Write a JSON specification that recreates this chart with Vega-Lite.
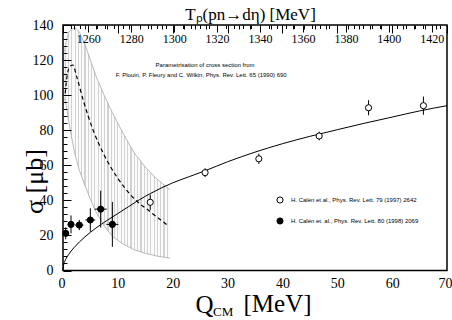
{
  "$schema": "https://vega.github.io/schema/vega-lite/v6.json",
  "width": 384,
  "height": 245.5,
  "autosize": {"type": "none"},
  "padding": {"left": 63, "top": 25, "right": 5, "bottom": 49.5},
  "background": "white",
  "config": {
    "view": {"stroke": "black", "strokeWidth": 1.5},
    "axis": {"labelFont": "Liberation Serif", "titleFont": "Liberation Serif", "labelColor": "black", "titleColor": "black", "titleFontWeight": "normal", "domain": false, "ticks": false, "tickSize": 0, "grid": true, "gridColor": "black", "gridOpacity": 1, "gridWidth": 1}
  },
  "datasets": {
    "tp": [{"Tp": 1260}, {"Tp": 1420}],
    "band": [
      {"Q": 0.3, "lo": 98, "hi": 125},
      {"Q": 0.6, "lo": 94, "hi": 131},
      {"Q": 1.0, "lo": 86, "hi": 135.5},
      {"Q": 1.5, "lo": 77, "hi": 137.5},
      {"Q": 2.2, "lo": 66, "hi": 138.5},
      {"Q": 3.0, "lo": 57, "hi": 136},
      {"Q": 4.0, "lo": 48.5, "hi": 129},
      {"Q": 5.0, "lo": 40.5, "hi": 120},
      {"Q": 6.0, "lo": 33.5, "hi": 111},
      {"Q": 7.5, "lo": 25.5, "hi": 100},
      {"Q": 9.0, "lo": 19.5, "hi": 90},
      {"Q": 11.0, "lo": 15, "hi": 78},
      {"Q": 13.0, "lo": 11.8, "hi": 67},
      {"Q": 15.0, "lo": 9.8, "hi": 59},
      {"Q": 17.0, "lo": 8.3, "hi": 52.5},
      {"Q": 19.5, "lo": 7, "hi": 46}
    ],
    "param": [
      {"Q": 0.4, "s": 101},
      {"Q": 0.8, "s": 112},
      {"Q": 1.3, "s": 116.5},
      {"Q": 1.8, "s": 117.2},
      {"Q": 2.5, "s": 110.5},
      {"Q": 3.7, "s": 97},
      {"Q": 5.5, "s": 80},
      {"Q": 7.4, "s": 66.5},
      {"Q": 9.8, "s": 53.5},
      {"Q": 12.8, "s": 41.5},
      {"Q": 15.9, "s": 33.5},
      {"Q": 19.2, "s": 25.5}
    ],
    "fit": [
      {"Q": 0, "s": 0},
      {"Q": 0.1, "s": 3},
      {"Q": 0.3, "s": 5},
      {"Q": 0.6, "s": 7},
      {"Q": 1, "s": 9},
      {"Q": 1.5, "s": 11.2},
      {"Q": 2, "s": 13},
      {"Q": 3, "s": 16.3},
      {"Q": 4, "s": 19.2},
      {"Q": 5, "s": 21.8},
      {"Q": 6, "s": 24.2},
      {"Q": 7, "s": 26.4},
      {"Q": 8, "s": 28.5},
      {"Q": 9, "s": 30.5},
      {"Q": 10, "s": 32.5},
      {"Q": 12, "s": 36.5},
      {"Q": 14, "s": 40.5},
      {"Q": 16, "s": 44},
      {"Q": 18, "s": 47.2},
      {"Q": 20, "s": 50},
      {"Q": 23, "s": 53.5},
      {"Q": 26, "s": 57},
      {"Q": 30, "s": 62},
      {"Q": 35, "s": 67.5},
      {"Q": 40, "s": 72.3},
      {"Q": 45, "s": 76.5},
      {"Q": 50, "s": 80.3},
      {"Q": 55, "s": 84},
      {"Q": 60, "s": 87.5},
      {"Q": 65, "s": 91},
      {"Q": 70, "s": 94}
    ],
    "pts": [
      {"src": "H. Calén et al., Phys. Rev. Lett. 79 (1997) 2642", "Q": 15.9, "s": 38.9, "slo": 34.6, "shi": 43.2, "qlo": 15.9, "qhi": 15.9},
      {"src": "H. Calén et al., Phys. Rev. Lett. 79 (1997) 2642", "Q": 25.9, "s": 55.8, "slo": 53.3, "shi": 58.3, "qlo": 25.9, "qhi": 25.9},
      {"src": "H. Calén et al., Phys. Rev. Lett. 79 (1997) 2642", "Q": 35.7, "s": 63.7, "slo": 60.8, "shi": 66.6, "qlo": 35.7, "qhi": 35.7},
      {"src": "H. Calén et al., Phys. Rev. Lett. 79 (1997) 2642", "Q": 46.7, "s": 76.7, "slo": 74.2, "shi": 79.2, "qlo": 46.7, "qhi": 46.7},
      {"src": "H. Calén et al., Phys. Rev. Lett. 79 (1997) 2642", "Q": 55.7, "s": 92.8, "slo": 88.5, "shi": 97.1, "qlo": 55.7, "qhi": 55.7},
      {"src": "H. Calén et al., Phys. Rev. Lett. 79 (1997) 2642", "Q": 65.7, "s": 94, "slo": 88.8, "shi": 99.2, "qlo": 65.7, "qhi": 65.7},
      {"src": "H. Calén et. al., Phys. Rev. Lett. 80 (1998) 2069", "Q": 0.5, "s": 21.2, "slo": 17.8, "shi": 24.6, "qlo": 0.05, "qhi": 0.95},
      {"src": "H. Calén et. al., Phys. Rev. Lett. 80 (1998) 2069", "Q": 1.46, "s": 26.3, "slo": 21.2, "shi": 31.4, "qlo": 0.86, "qhi": 2.06},
      {"src": "H. Calén et. al., Phys. Rev. Lett. 80 (1998) 2069", "Q": 2.97, "s": 25.9, "slo": 23.0, "shi": 28.8, "qlo": 2.22, "qhi": 3.72},
      {"src": "H. Calén et. al., Phys. Rev. Lett. 80 (1998) 2069", "Q": 4.98, "s": 28.8, "slo": 22.1, "shi": 35.5, "qlo": 4.08, "qhi": 5.88},
      {"src": "H. Calén et. al., Phys. Rev. Lett. 80 (1998) 2069", "Q": 6.87, "s": 35, "slo": 24.5, "shi": 45.5, "qlo": 5.77, "qhi": 7.97},
      {"src": "H. Calén et. al., Phys. Rev. Lett. 80 (1998) 2069", "Q": 9.0, "s": 26.3, "slo": 13.5, "shi": 39.1, "qlo": 7.9, "qhi": 10.1}
    ],
    "notes": [
      {"Q": 25.9, "s": 117.2, "t": "Parametrisation of cross section from"},
      {"Q": 25.2, "s": 111.5, "t": "F. Plouin, P. Fleury and C. Wilkin, Phys. Rev. Lett. 65 (1990) 690"}
    ],
    "sub": [{"Q": 29.2, "s": -25.9, "t": "CM"}],
    "unit": [{"Q": 39.1, "s": -23.8, "t": "[MeV]"}]
  },
  "layer": [
    {
      "layer": [
        {
          "data": {"name": "band"},
          "mark": {"type": "area", "opacity": 1, "color": {"gradient": "linear", "x1": 0, "x2": 1, "y1": 0, "y2": 0, "stops": [
            {"offset": 0, "color": "#d2d2d2"}, {"offset": 0.011, "color": "#d2d2d2"}, {"offset": 0.011, "color": "#fbfbfb"}, {"offset": 0.03125, "color": "#fbfbfb"},
            {"offset": 0.03125, "color": "#d2d2d2"}, {"offset": 0.04225, "color": "#d2d2d2"}, {"offset": 0.04225, "color": "#fbfbfb"}, {"offset": 0.0625, "color": "#fbfbfb"},
            {"offset": 0.0625, "color": "#d2d2d2"}, {"offset": 0.0735, "color": "#d2d2d2"}, {"offset": 0.0735, "color": "#fbfbfb"}, {"offset": 0.09375, "color": "#fbfbfb"},
            {"offset": 0.09375, "color": "#d2d2d2"}, {"offset": 0.10475, "color": "#d2d2d2"}, {"offset": 0.10475, "color": "#fbfbfb"}, {"offset": 0.125, "color": "#fbfbfb"},
            {"offset": 0.125, "color": "#d2d2d2"}, {"offset": 0.136, "color": "#d2d2d2"}, {"offset": 0.136, "color": "#fbfbfb"}, {"offset": 0.15625, "color": "#fbfbfb"},
            {"offset": 0.15625, "color": "#d2d2d2"}, {"offset": 0.16725, "color": "#d2d2d2"}, {"offset": 0.16725, "color": "#fbfbfb"}, {"offset": 0.1875, "color": "#fbfbfb"},
            {"offset": 0.1875, "color": "#d2d2d2"}, {"offset": 0.1985, "color": "#d2d2d2"}, {"offset": 0.1985, "color": "#fbfbfb"}, {"offset": 0.21875, "color": "#fbfbfb"},
            {"offset": 0.21875, "color": "#d2d2d2"}, {"offset": 0.22975, "color": "#d2d2d2"}, {"offset": 0.22975, "color": "#fbfbfb"}, {"offset": 0.25, "color": "#fbfbfb"},
            {"offset": 0.25, "color": "#d2d2d2"}, {"offset": 0.261, "color": "#d2d2d2"}, {"offset": 0.261, "color": "#fbfbfb"}, {"offset": 0.28125, "color": "#fbfbfb"},
            {"offset": 0.28125, "color": "#d2d2d2"}, {"offset": 0.29225, "color": "#d2d2d2"}, {"offset": 0.29225, "color": "#fbfbfb"}, {"offset": 0.3125, "color": "#fbfbfb"},
            {"offset": 0.3125, "color": "#d2d2d2"}, {"offset": 0.3235, "color": "#d2d2d2"}, {"offset": 0.3235, "color": "#fbfbfb"}, {"offset": 0.34375, "color": "#fbfbfb"},
            {"offset": 0.34375, "color": "#d2d2d2"}, {"offset": 0.35475, "color": "#d2d2d2"}, {"offset": 0.35475, "color": "#fbfbfb"}, {"offset": 0.375, "color": "#fbfbfb"},
            {"offset": 0.375, "color": "#d2d2d2"}, {"offset": 0.386, "color": "#d2d2d2"}, {"offset": 0.386, "color": "#fbfbfb"}, {"offset": 0.40625, "color": "#fbfbfb"},
            {"offset": 0.40625, "color": "#d2d2d2"}, {"offset": 0.41725, "color": "#d2d2d2"}, {"offset": 0.41725, "color": "#fbfbfb"}, {"offset": 0.4375, "color": "#fbfbfb"},
            {"offset": 0.4375, "color": "#d2d2d2"}, {"offset": 0.4485, "color": "#d2d2d2"}, {"offset": 0.4485, "color": "#fbfbfb"}, {"offset": 0.46875, "color": "#fbfbfb"},
            {"offset": 0.46875, "color": "#d2d2d2"}, {"offset": 0.47975, "color": "#d2d2d2"}, {"offset": 0.47975, "color": "#fbfbfb"}, {"offset": 0.5, "color": "#fbfbfb"},
            {"offset": 0.5, "color": "#d2d2d2"}, {"offset": 0.511, "color": "#d2d2d2"}, {"offset": 0.511, "color": "#fbfbfb"}, {"offset": 0.53125, "color": "#fbfbfb"},
            {"offset": 0.53125, "color": "#d2d2d2"}, {"offset": 0.54225, "color": "#d2d2d2"}, {"offset": 0.54225, "color": "#fbfbfb"}, {"offset": 0.5625, "color": "#fbfbfb"},
            {"offset": 0.5625, "color": "#d2d2d2"}, {"offset": 0.5735, "color": "#d2d2d2"}, {"offset": 0.5735, "color": "#fbfbfb"}, {"offset": 0.59375, "color": "#fbfbfb"},
            {"offset": 0.59375, "color": "#d2d2d2"}, {"offset": 0.60475, "color": "#d2d2d2"}, {"offset": 0.60475, "color": "#fbfbfb"}, {"offset": 0.625, "color": "#fbfbfb"},
            {"offset": 0.625, "color": "#d2d2d2"}, {"offset": 0.636, "color": "#d2d2d2"}, {"offset": 0.636, "color": "#fbfbfb"}, {"offset": 0.65625, "color": "#fbfbfb"},
            {"offset": 0.65625, "color": "#d2d2d2"}, {"offset": 0.66725, "color": "#d2d2d2"}, {"offset": 0.66725, "color": "#fbfbfb"}, {"offset": 0.6875, "color": "#fbfbfb"},
            {"offset": 0.6875, "color": "#d2d2d2"}, {"offset": 0.6985, "color": "#d2d2d2"}, {"offset": 0.6985, "color": "#fbfbfb"}, {"offset": 0.71875, "color": "#fbfbfb"},
            {"offset": 0.71875, "color": "#d2d2d2"}, {"offset": 0.72975, "color": "#d2d2d2"}, {"offset": 0.72975, "color": "#fbfbfb"}, {"offset": 0.75, "color": "#fbfbfb"},
            {"offset": 0.75, "color": "#d2d2d2"}, {"offset": 0.761, "color": "#d2d2d2"}, {"offset": 0.761, "color": "#fbfbfb"}, {"offset": 0.78125, "color": "#fbfbfb"},
            {"offset": 0.78125, "color": "#d2d2d2"}, {"offset": 0.79225, "color": "#d2d2d2"}, {"offset": 0.79225, "color": "#fbfbfb"}, {"offset": 0.8125, "color": "#fbfbfb"},
            {"offset": 0.8125, "color": "#d2d2d2"}, {"offset": 0.8235, "color": "#d2d2d2"}, {"offset": 0.8235, "color": "#fbfbfb"}, {"offset": 0.84375, "color": "#fbfbfb"},
            {"offset": 0.84375, "color": "#d2d2d2"}, {"offset": 0.85475, "color": "#d2d2d2"}, {"offset": 0.85475, "color": "#fbfbfb"}, {"offset": 0.875, "color": "#fbfbfb"},
            {"offset": 0.875, "color": "#d2d2d2"}, {"offset": 0.886, "color": "#d2d2d2"}, {"offset": 0.886, "color": "#fbfbfb"}, {"offset": 0.90625, "color": "#fbfbfb"},
            {"offset": 0.90625, "color": "#d2d2d2"}, {"offset": 0.91725, "color": "#d2d2d2"}, {"offset": 0.91725, "color": "#fbfbfb"}, {"offset": 0.9375, "color": "#fbfbfb"},
            {"offset": 0.9375, "color": "#d2d2d2"}, {"offset": 0.9485, "color": "#d2d2d2"}, {"offset": 0.9485, "color": "#fbfbfb"}, {"offset": 0.96875, "color": "#fbfbfb"},
            {"offset": 0.96875, "color": "#d2d2d2"}, {"offset": 0.97975, "color": "#d2d2d2"}, {"offset": 0.97975, "color": "#fbfbfb"}, {"offset": 1, "color": "#fbfbfb"}
          ]}},
          "encoding": {
            "x": {"field": "Q", "type": "quantitative", "scale": {"domain": [0, 70], "nice": false, "zero": false},
              "axis": {"orient": "bottom", "values": [0,2,4,6,8,10,12,14,16,18,20,22,24,26,28,30,32,34,36,38,40,42,44,46,48,50,52,54,56,58,60,62,64,66,68,70],
                "tickCount": 200, "zindex": 1, "labelOverlap": false, "labelFlush": true, "labelFlushOffset": 5, "format": "d",
                "grid": true, "gridDash": {"condition": {"test": "datum.value % 10 === 0", "value": [8, 1000]}, "value": [4, 1000]},
                "labelExpr": "datum.value % 10 === 0 ? datum.label : ''",
                "labelFontSize": 14, "labelPadding": 6,
                "title": "Q", "titleFontSize": 25, "titleX": 141, "titleY": 41.5, "titleBaseline": "alphabetic"}},
            "y": {"field": "lo", "type": "quantitative", "scale": {"domain": [0, 140], "nice": false, "zero": false},
              "axis": {"orient": "left", "values": [0,4,8,12,16,20,24,28,32,36,40,44,48,52,56,60,64,68,72,76,80,84,88,92,96,100,104,108,112,116,120,124,128,132,136,140],
                "tickCount": 200, "zindex": 1, "labelOverlap": false, "labelFlush": false, "format": "d",
                "grid": true, "gridDash": {"condition": {"test": "datum.value % 20 === 0", "value": [8, 1000]}, "value": [4, 1000]},
                "labelExpr": "datum.value % 20 === 0 ? datum.label : ''",
                "labelFontSize": 14, "labelPadding": 10,
                "title": "σ [μb]", "titleFontSize": 26, "titleX": -29, "titleY": 156, "titleAngle": -90, "titleAlign": "center", "titleBaseline": "middle"}},
            "y2": {"field": "hi"}
          }
        },
        {
          "data": {"name": "band"},
          "mark": {"type": "line", "color": "#a8a8a8", "strokeWidth": 0.8},
          "encoding": {"x": {"field": "Q", "type": "quantitative"}, "y": {"field": "hi", "type": "quantitative"}}
        },
        {
          "data": {"name": "band"},
          "mark": {"type": "line", "color": "#a8a8a8", "strokeWidth": 0.8},
          "encoding": {"x": {"field": "Q", "type": "quantitative"}, "y": {"field": "lo", "type": "quantitative"}}
        },
        {
          "data": {"name": "param"},
          "mark": {"type": "line", "color": "black", "strokeWidth": 1.2, "strokeDash": [4, 3], "interpolate": "monotone"},
          "encoding": {"x": {"field": "Q", "type": "quantitative"}, "y": {"field": "s", "type": "quantitative"}}
        },
        {
          "data": {"name": "fit"},
          "mark": {"type": "line", "color": "black", "strokeWidth": 1, "interpolate": "monotone"},
          "encoding": {"x": {"field": "Q", "type": "quantitative"}, "y": {"field": "s", "type": "quantitative"}}
        },
        {
          "data": {"name": "pts"},
          "mark": {"type": "rule", "color": "black", "strokeWidth": 1},
          "encoding": {"x": {"field": "Q", "type": "quantitative"}, "y": {"field": "slo", "type": "quantitative"}, "y2": {"field": "shi"}}
        },
        {
          "data": {"name": "pts"},
          "mark": {"type": "rule", "color": "black", "strokeWidth": 1},
          "encoding": {"x": {"field": "qlo", "type": "quantitative"}, "x2": {"field": "qhi"}, "y": {"field": "s", "type": "quantitative"}}
        },
        {
          "data": {"name": "pts"},
          "mark": {"type": "point", "filled": true, "stroke": "black", "strokeWidth": 1, "size": 38, "opacity": 1},
          "encoding": {
            "x": {"field": "Q", "type": "quantitative"},
            "y": {"field": "s", "type": "quantitative"},
            "fill": {"field": "src", "type": "nominal",
              "scale": {"domain": ["H. Calén et al., Phys. Rev. Lett. 79 (1997) 2642", "H. Calén et. al., Phys. Rev. Lett. 80 (1998) 2069"], "range": ["white", "black"]},
              "legend": {"orient": "none", "legendX": 213, "legendY": 171, "title": null, "labelFont": "Liberation Sans", "labelFontSize": 6, "labelColor": "black", "symbolType": "circle", "symbolSize": 38, "symbolStrokeColor": "black", "symbolStrokeWidth": 1, "labelOffset": 7, "rowPadding": 9, "labelLimit": 300, "padding": 0}}
          }
        },
        {
          "data": {"name": "notes"},
          "mark": {"type": "text", "font": "Liberation Sans", "fontSize": 6, "color": "black", "align": "center", "baseline": "middle"},
          "encoding": {"x": {"field": "Q", "type": "quantitative"}, "y": {"field": "s", "type": "quantitative"}, "text": {"field": "t"}}
        },
        {
          "data": {"name": "sub"},
          "mark": {"type": "text", "font": "Liberation Serif", "fontSize": 13, "color": "black", "align": "center", "baseline": "alphabetic"},
          "encoding": {"x": {"field": "Q", "type": "quantitative"}, "y": {"field": "s", "type": "quantitative"}, "text": {"field": "t"}}
        },
        {
          "data": {"name": "unit"},
          "mark": {"type": "text", "font": "Liberation Serif", "fontSize": 25, "color": "black", "align": "center", "baseline": "alphabetic"},
          "encoding": {"x": {"field": "Q", "type": "quantitative"}, "y": {"field": "s", "type": "quantitative"}, "text": {"field": "t"}}
        }
      ]
    },
    {
      "data": {"name": "tp"},
      "mark": {"type": "point", "opacity": 0},
      "encoding": {
        "x": {"field": "Tp", "type": "quantitative", "scale": {"domain": [1248.2, 1427.1], "nice": false, "zero": false},
          "axis": {"orient": "top", "values": [1252,1256,1260,1264,1268,1272,1276,1280,1284,1288,1292,1296,1300,1304,1308,1312,1316,1320,1324,1328,1332,1336,1340,1344,1348,1352,1356,1360,1364,1368,1372,1376,1380,1384,1388,1392,1396,1400,1404,1408,1412,1416,1420,1424],
            "tickCount": 200, "zindex": 1, "labelOverlap": false, "labelFlush": false,
            "grid": true, "gridDash": {"condition": {"test": "datum.value % 20 === 0", "value": [7, 1000]}, "value": [3.5, 1000]},
            "labelExpr": "datum.value % 20 === 0 ? datum.label : ''",
            "format": "d",
            "labelFontSize": 12, "labelPadding": -20,
            "title": "Tₚ(pn→dη) [MeV]", "titleFontSize": 17, "titleX": 187, "titleY": -6, "titleBaseline": "alphabetic"}}
      }
    }
  ],
  "resolve": {"scale": {"x": "independent"}}
}
